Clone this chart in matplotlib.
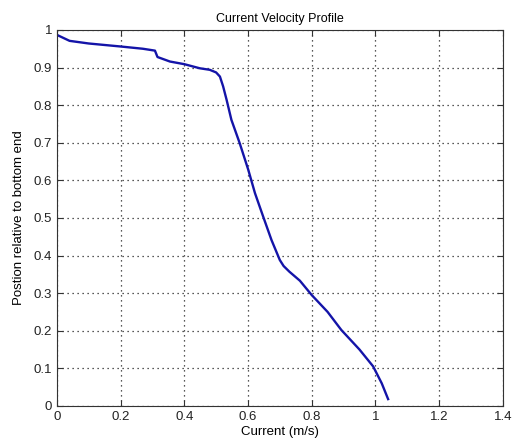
import numpy as np
import matplotlib
matplotlib.use('Agg')
import matplotlib.pyplot as plt

# Current velocity profile
current = [0.0, 0.04, 0.10, 0.20, 0.27, 0.308, 0.316, 0.355, 0.40, 0.449, 0.480, 0.500,
           0.512, 0.522, 0.533, 0.548, 0.574, 0.601, 0.622, 0.648, 0.674, 0.700, 0.712,
           0.730, 0.763, 0.80, 0.85, 0.893, 0.95, 0.993, 1.02, 1.04]
position = [0.987, 0.971, 0.964, 0.956, 0.950, 0.945, 0.928, 0.916, 0.909, 0.898, 0.894, 0.887,
            0.876, 0.850, 0.814, 0.761, 0.699, 0.628, 0.566, 0.503, 0.441, 0.388, 0.372,
            0.357, 0.333, 0.295, 0.250, 0.202, 0.150, 0.105, 0.060, 0.018]

xticks = [0, 0.2, 0.4, 0.6, 0.8, 1, 1.2, 1.4]
yticks = [0, 0.1, 0.2, 0.3, 0.4, 0.5, 0.6, 0.7, 0.8, 0.9, 1]

plt.rcParams['font.family'] = ['Liberation Sans', 'DejaVu Sans']
plt.rcParams['font.size'] = 9.5

fig = plt.figure(figsize=(5.12, 4.47), dpi=100)
ax = fig.add_axes([0.111, 0.092, 0.871, 0.841])

ax.plot(current, position, color='#1414a8', linewidth=1.7)

ax.set_xlim(0, 1.4)
ax.set_ylim(0, 1)
ax.set_xticks(xticks)
ax.set_yticks(yticks)
ax.set_xticklabels(['0', '0.2', '0.4', '0.6', '0.8', '1', '1.2', '1.4'], color='#222222')
ax.set_yticklabels(['0', '0.1', '0.2', '0.3', '0.4', '0.5', '0.6', '0.7', '0.8', '0.9', '1'],
                   color='#222222')
ax.tick_params(direction='in', top=True, right=True, length=4, color='#333333')
ax.grid(True, linestyle=(0, (1, 3)), color='#222222', linewidth=0.9)
for s in ax.spines.values():
    s.set_color('#333333')

ax.set_title('Current Velocity Profile', fontsize=9)
ax.set_xlabel('Current (m/s)', fontsize=9.5, labelpad=2)
ax.set_ylabel('Postion relative to bottom end', fontsize=9.5, labelpad=6)

fig.savefig('out.png', dpi=100)
